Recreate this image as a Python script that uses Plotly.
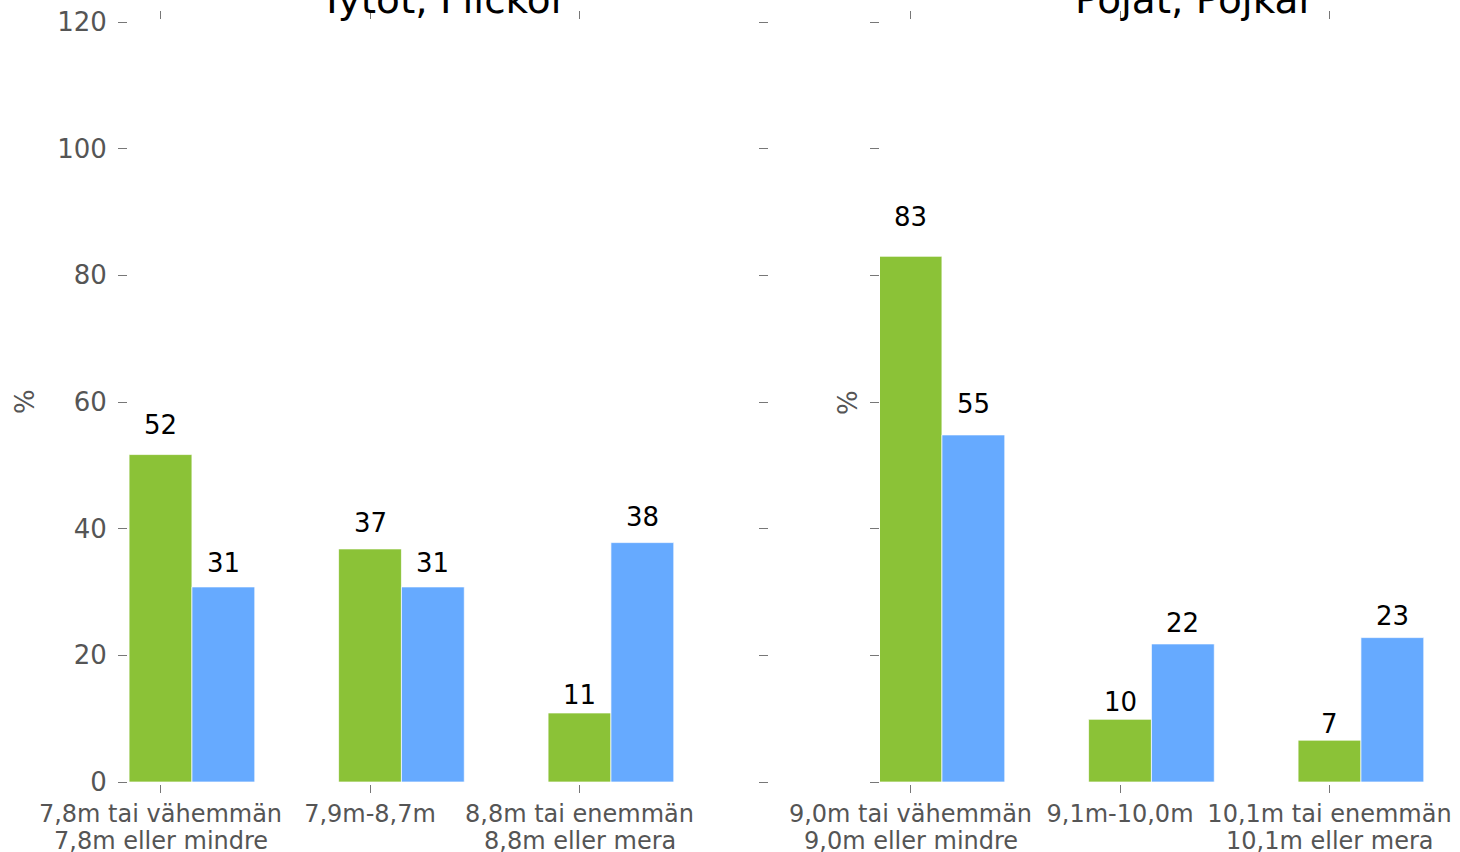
import plotly.graph_objects as go

# ---- data ----
girls_title = "Tytöt, Flickor"
boys_title = "Pojat, Pojkar"
girls_labels_fi = ["7,8m tai vähemmän", "7,9m-8,7m", "8,8m tai enemmän"]
girls_labels_sv = ["7,8m eller mindre", "", "8,8m eller mera"]
boys_labels_fi = ["9,0m tai vähemmän", "9,1m-10,0m", "10,1m tai enemmän"]
boys_labels_sv = ["9,0m eller mindre", "", "10,1m eller mera"]
girls_green = [51.7, 36.8, 10.9]
girls_blue = [30.8, 30.8, 37.8]
boys_green = [83.0, 9.9, 6.6]
boys_blue = [54.8, 21.8, 22.8]
y_ticks = [0, 20, 40, 60, 80, 100, 120]

GREEN = "#8BC237"
BLUE = "#66AAFF"
GRAY = "#555555"
TICKC = "#777777"
FONT = "DejaVu Sans"

W, H = 1460, 852
BAR_W = 0.3

fig = go.Figure()

def px_x(p):
    return p / W

def px_y(p):
    return (H - p) / H

panels = [
    ("x", "y", girls_labels_fi, girls_labels_sv, girls_green, girls_blue),
    ("x2", "y2", boys_labels_fi, boys_labels_sv, boys_green, boys_blue),
]

for xa, ya, fi, sv, g, b in panels:
    idx = list(range(len(fi)))
    fig.add_trace(go.Bar(x=idx, y=g, width=BAR_W, offset=-BAR_W / 2, marker=dict(color=GREEN, line=dict(color="rgba(255,255,255,0.7)", width=1)),
                         xaxis=xa, yaxis=ya, showlegend=False, hoverinfo="y"))
    fig.add_trace(go.Bar(x=idx, y=b, width=BAR_W, offset=BAR_W / 2, marker=dict(color=BLUE, line=dict(color="rgba(255,255,255,0.7)", width=1)),
                         xaxis=xa, yaxis=ya, showlegend=False, hoverinfo="y"))
    for i in idx:
        for val, shift in ((g[i], 0.0), (b[i], BAR_W)):
            fig.add_annotation(x=i + shift, y=val * 1.047 + 2.3, xref=xa, yref=ya, text=str(int(round(val))),
                               showarrow=False, xanchor="center", yanchor="middle",
                               font=dict(family=FONT, size=26, color="black"))
        if sv[i]:
            # second line of the category label (tighter line spacing than plotly's <br>)
            fig.add_annotation(x=i, y=px_y(841), xref=xa, yref="paper", text=sv[i], showarrow=False,
                               xanchor="center", yanchor="middle", font=dict(family=FONT, size=24, color=GRAY))

# domains in pixels
left_dom = [px_x(128), px_x(758)]
right_dom = [px_x(880), 1.0]
y_dom = [px_y(782), px_y(22)]
unit = 209.5

common_x = dict(tickmode="array", tickvals=[0, 1, 2], ticks="outside", ticklen=8, tickwidth=1, tickcolor=TICKC,
                showline=True, linecolor="rgba(0,0,0,0)", linewidth=3, mirror="ticks", automargin=False,
                showgrid=False, zeroline=False, tickfont=dict(family=FONT, size=24, color=GRAY), fixedrange=True)
common_y = dict(range=[0, 120], tickmode="array", tickvals=y_ticks, ticks="outside", ticklen=9, tickwidth=1, tickcolor=TICKC,
                showline=True, linecolor="rgba(0,0,0,0)", linewidth=1, mirror="ticks", automargin=False,
                ticklabelstandoff=6,
                showgrid=False, zeroline=False, tickfont=dict(family=FONT, size=26, color=GRAY), fixedrange=True, domain=y_dom)

fig.update_layout(
    xaxis=dict(domain=left_dom, range=[(128 - 160.5) / unit, (758 - 160.5) / unit], ticktext=girls_labels_fi, anchor="y", **common_x),
    xaxis2=dict(domain=right_dom, range=[(880 - 910.5) / unit, (1460 - 910.5) / unit], ticktext=boys_labels_fi, anchor="y2", **common_x),
    yaxis=dict(anchor="x", showticklabels=True, **common_y),
    yaxis2=dict(anchor="x2", showticklabels=False, **common_y),
    barmode="overlay",
    width=W, height=H,
    margin=dict(l=0, r=0, t=0, b=0, autoexpand=False),
    paper_bgcolor="white", plot_bgcolor="white",
    font=dict(family=FONT, color=GRAY),
)

# subplot titles
for title, cx in ((girls_title, 443), (boys_title, 1195)):
    fig.add_annotation(x=px_x(cx), y=px_y(24), xref="paper", yref="paper", text=title, showarrow=False,
                       xanchor="center", yanchor="bottom", font=dict(family=FONT, size=39, color="black"))
# y-axis titles
for xp in (25, 848):
    fig.add_annotation(x=px_x(xp), y=px_y(402), xref="paper", yref="paper", text="%", showarrow=False, textangle=-90,
                       xanchor="center", yanchor="middle", font=dict(family=FONT, size=26, color=GRAY))

fig.write_html("out.html", config={"displayModeBar": False},
               post_script="document.body.style.margin='0';document.body.style.overflow='hidden';")
